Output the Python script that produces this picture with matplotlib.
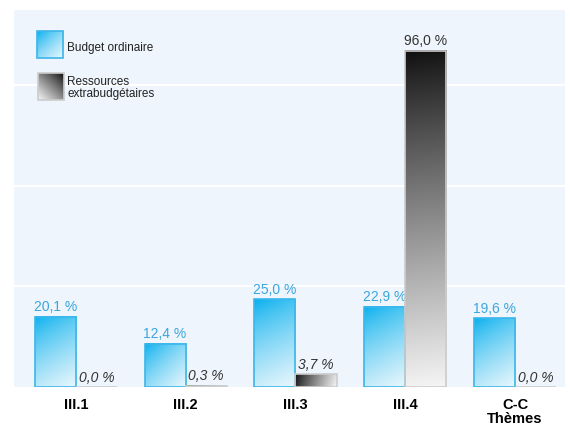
import matplotlib
matplotlib.use("Agg")
import matplotlib.pyplot as plt
import numpy as np
from matplotlib.patches import Rectangle

# data
categories = ["III.1", "III.2", "III.3", "III.4", "C-C\nThèmes"]
budget_ordinaire = [20.1, 12.4, 25.0, 22.9, 19.6]
extrabudgetaires = [0.0, 0.3, 3.7, 96.0, 0.0]
legend_labels = ["Budget ordinaire", "Ressources\nextrabudgétaires"]

BLUE_TOP = np.array([0.0, 0.68, 0.93])
BLUE_BOT = np.array([0.92, 0.97, 0.99])
GREY_TOP = np.array([0.06, 0.06, 0.06])
GREY_BOT = np.array([0.96, 0.96, 0.96])

PX_X = 551 / 5.019   # pixels per x unit
PX_Y = 377 / 107.7   # pixels per y unit
FONT = ["Liberation Sans", "DejaVu Sans"]


def gradient(c0, c1, W, H, gamma=1.0, n=150, m=60, flip=False):
    """gradient along the box diagonal (pixel space): top-left c0 -> bottom-right c1"""
    v = np.linspace(1, 0, n)[:, None]  # row 0 = top
    u = np.linspace(0, 1, m)[None, :]
    if flip:
        u = 1 - u
    W, H = max(W, 1), max(H, 1)
    t = (u * W * W + (1 - v) * H * H) / (W * W + H * H)
    t = np.clip(t, 0, 1) ** gamma
    return c0[None, None, :] * (1 - t[..., None]) + c1[None, None, :] * t[..., None]


def grad_bar(ax, x0, x1, y0, y1, c0, c1, edge, gamma, z=3):
    if y1 > y0:
        img = gradient(c0, c1, (x1 - x0) * PX_X, (y1 - y0) * PX_Y, gamma)
        ax.imshow(img, extent=(x0, x1, y0, y1), origin="upper",
                  aspect="auto", zorder=z, interpolation="bilinear")
    ax.add_patch(Rectangle((x0, y0), x1 - x0, y1 - y0, fill=False,
                           edgecolor=edge, lw=1.2, zorder=z + 1))


fig = plt.figure(figsize=(5.7, 4.27), dpi=100)
ax = fig.add_axes([14 / 570, 39 / 427, 551 / 570, 377 / 427])
ax.set_facecolor("#eef5fc")
for s in ax.spines.values():
    s.set_visible(False)

for gy in [28.75, 57.5, 86.25]:
    ax.axhline(gy, color="white", lw=1.5, zorder=1)

w = 0.375
x = np.arange(len(categories))
for i, (b, e) in enumerate(zip(budget_ordinaire, extrabudgetaires)):
    grad_bar(ax, x[i] - w, x[i], 0, b, BLUE_TOP, BLUE_BOT, "#3cb6ea", 0.75)
    grad_bar(ax, x[i], x[i] + w, 0, e, GREY_TOP, GREY_BOT, "#cccccc", 0.9)
    ax.annotate(f"{b:.1f} %".replace(".", ","), (x[i] - w / 2, b),
                xytext=(0, 2.5), textcoords="offset points", ha="center",
                va="bottom", color="#3aa6de", fontsize=10, family=FONT)
    ax.annotate(f"{e:.1f} %".replace(".", ","), (x[i] + w / 2, e),
                xytext=(0, 2.5), textcoords="offset points", ha="center",
                va="bottom", color="#333333", fontsize=10,
                style="normal" if e > 50 else "italic", family=FONT)

ax.set_xlim(-0.564, 4.455)
ax.set_ylim(0, 107.7)
ax.set_yticks([])
ax.set_xticks(x)
ax.set_xticklabels(categories, fontweight="bold", fontsize=10.5,
                   family=FONT, linespacing=0.95)
ax.tick_params(axis="x", length=0, pad=7.5)


# legend drawn by hand
def legend_patch(px, py, c0, c1, edge, gamma, flip):
    lax = fig.add_axes([px / 570, 1 - (py + 27) / 427, 26 / 570, 27 / 427])
    lax.imshow(gradient(c0, c1, 26, 27, gamma, 40, 40, flip), extent=(0, 1, 0, 1),
               aspect="auto", interpolation="bilinear")
    lax.add_patch(Rectangle((0, 0), 1, 1, fill=False, edgecolor=edge, lw=1.2,
                            transform=lax.transAxes, clip_on=False))
    lax.set_xlim(0, 1)
    lax.set_ylim(0, 1)
    lax.axis("off")


legend_patch(37, 32, BLUE_TOP, BLUE_BOT, "#3cb6ea", 0.75, False)
legend_patch(38, 74, GREY_TOP, GREY_BOT, "#cccccc", 0.9, True)
fig.text(67 / 570, 1 - 48 / 427, legend_labels[0], fontsize=8.5, va="center",
         color="#222222", family=FONT)
fig.text(67 / 570, 1 - 88 / 427, legend_labels[1], fontsize=8.5, va="center",
         color="#222222", linespacing=1.0, family=FONT)

fig.savefig("out.png", dpi=100, facecolor="white")
